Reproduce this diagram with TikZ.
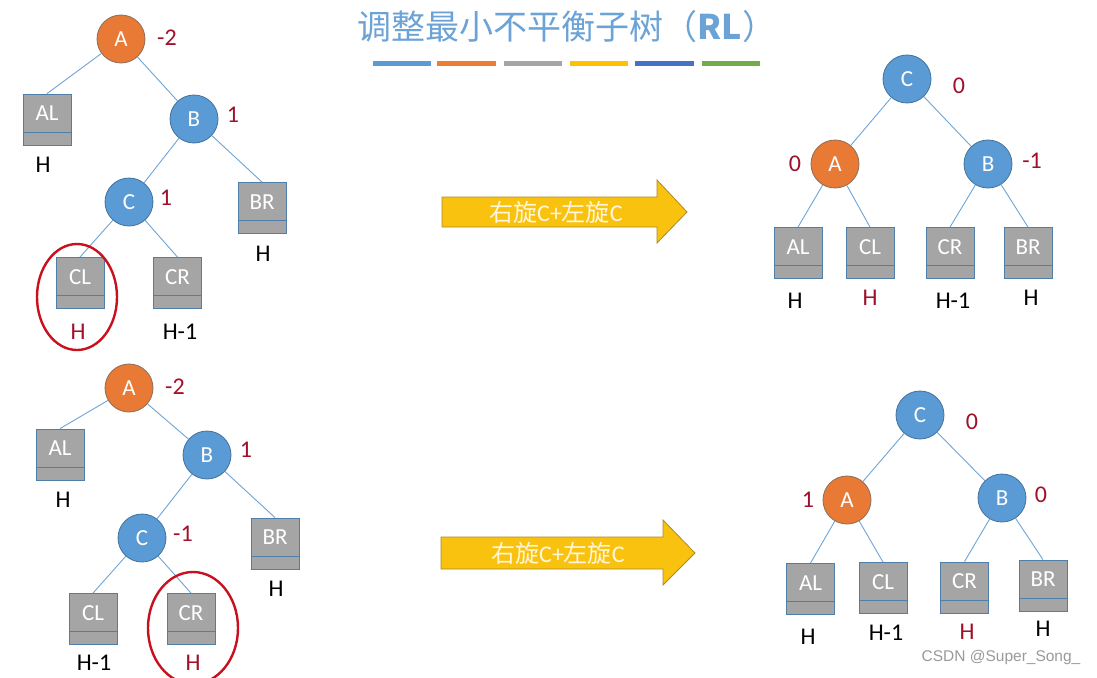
\documentclass[tikz,border=0pt]{standalone}
\usepackage{fontspec}
\setmainfont{Carlito}
\newfontfamily\cjk{Noto Sans CJK SC}
\newfontfamily\latinf{Carlito}
\newfontfamily\wmfont{Liberation Sans}
\usetikzlibrary{calc}
\definecolor{nodeblue}{HTML}{5B9BD5}
\definecolor{nodeborder}{HTML}{41719C}
\definecolor{nodeorange}{HTML}{E97A35}
\definecolor{orangeborder}{HTML}{8A6D5A}
\definecolor{boxgray}{HTML}{A5A5A5}
\definecolor{boxborder}{HTML}{4F7EA8}
\definecolor{edgeblue}{HTML}{6FA5D6}
\definecolor{bfred}{HTML}{A0102A}
\definecolor{ringred}{HTML}{C8101E}
\definecolor{titleblue}{HTML}{6CA3D6}
\definecolor{barblue}{HTML}{5B9BD5}
\definecolor{barorange}{HTML}{ED7D31}
\definecolor{bargray}{HTML}{A5A5A5}
\definecolor{baryellow}{HTML}{FFC000}
\definecolor{bardarkblue}{HTML}{4472C4}
\definecolor{bargreen}{HTML}{70AD47}
\definecolor{arrowfill}{HTML}{F8C20F}
\definecolor{arrowborder}{HTML}{B08A20}
\definecolor{arrowtext}{HTML}{FFF6DC}
\definecolor{wmgray}{HTML}{9A9A9A}
\tikzset{
  treenode/.style={circle, minimum size=48pt, inner sep=0pt, line width=0.8pt,
    text=white, font=\fontsize{23}{26}\selectfont},
  bnode/.style={treenode, fill=nodeblue, draw=nodeborder},
  onode/.style={treenode, fill=nodeorange, draw=orangeborder},
  leafbox/.style={rectangle, minimum width=48pt, minimum height=51pt, inner sep=0pt,
    fill=boxgray, draw=boxborder, line width=0.8pt,
    path picture={\draw[boxborder, line width=0.8pt]
      ([yshift=13pt]path picture bounding box.south west) --
      ([yshift=13pt]path picture bounding box.south east);},
    label={[text=white, font=\fontsize{23}{26}\selectfont, yshift=6pt]center:#1}},
  edge/.style={draw=edgeblue, line width=0.9pt},
  bf/.style={text=bfred, font=\fontsize{24}{27}\selectfont, inner sep=0pt},
  ht/.style={text=black, font=\fontsize{24}{27}\selectfont, inner sep=0pt},
  htred/.style={ht, text=bfred},
  ring/.style={draw=ringred, line width=2.4pt},
  bar/.style={line width=5pt},
  bigarrow/.style={fill=arrowfill, draw=arrowborder, line width=0.8pt},
  arrowlbl/.style={text=arrowtext, font=\cjk\fontsize{24}{27}\selectfont, inner sep=0pt},
}
\begin{document}
\begin{tikzpicture}[x=1pt, y=-1pt]
\useasboundingbox (0,0) rectangle (1097,677);
\fill[white] (0,0) rectangle (1097,677);
\clip (0,0) rectangle (1097,677);

% title
\node[text=titleblue, font=\cjk\fontsize{34}{37}\selectfont, inner sep=0pt] (title) at (567,27) {调整最小不平衡子树（\textbf{RL}）};
\draw[bar, barblue] (373,64) -- (431,64);
\draw[bar, barorange] (437,64) -- (496,64);
\draw[bar, bargray] (504,64) -- (562,64);
\draw[bar, baryellow] (570,64) -- (628,64);
\draw[bar, bardarkblue] (635,64) -- (694,64);
\draw[bar, bargreen] (702,64) -- (760,64);

% ===== top-left tree =====
\node[onode] (tlA) at (121,39) {A};
\node[bnode] (tlB) at (194,119) {B};
\node[bnode] (tlC) at (129,202) {C};
\node[leafbox=AL] (tlAL) at (47,119.5) {};
\node[leafbox=BR] (tlBR) at (262,208) {};
\node[leafbox=CL] (tlCL) at (80,283) {};
\node[leafbox=CR] (tlCR) at (177.5,283) {};
\draw[edge] (tlA) -- (tlAL.north);
\draw[edge] (tlA) -- (tlB);
\draw[edge] (tlB) -- (tlC);
\draw[edge] (tlB) -- (tlBR.north);
\draw[edge] (tlC) -- (tlCL.north);
\draw[edge] (tlC) -- (tlCR.north);
\node[bf] (tlAbf) at (167,38) {-2};
\node[bf] (tlBbf) at (233,115) {1};
\node[bf] (tlCbf) at (166,198) {1};
\node[ht] (tlALh) at (43,165) {H};
\node[ht] (tlBRh) at (263,254) {H};
\node[htred] (tlCLh) at (78,332) {H};
\node[ht] (tlCRh) at (180,332) {H-1};
\draw[ring] (77,297) ellipse [x radius=40, y radius=53];

% ===== bottom-left tree =====
\node[onode] (blA) at (129,388) {A};
\node[bnode] (blB) at (207,455) {B};
\node[bnode] (blC) at (142,538) {C};
\node[leafbox=AL] (blAL) at (60,454.5) {};
\node[leafbox=BR] (blBR) at (275,543.5) {};
\node[leafbox=CL] (blCL) at (93,619) {};
\node[leafbox=CR] (blCR) at (191,619) {};
\draw[edge] (blA) -- (blAL.north);
\draw[edge] (blA) -- (blB);
\draw[edge] (blB) -- (blC);
\draw[edge] (blB) -- (blBR.north);
\draw[edge] (blC) -- (blCL.north);
\draw[edge] (blC) -- (blCR.north);
\node[bf] (blAbf) at (175,387) {-2};
\node[bf] (blBbf) at (246,450) {1};
\node[bf] (blCbf) at (183,534) {-1};
\node[ht] (blALh) at (63,500) {H};
\node[ht] (blBRh) at (276,589) {H};
\node[ht] (blCLh) at (94,663) {H-1};
\node[htred] (blCRh) at (193,663) {H};
\draw[ring] (193,628) ellipse [x radius=45, y radius=56];

% ===== arrows =====
\fill[bigarrow] (442,197) -- (657,197) -- (657,180) -- (687,212) -- (657,243) -- (657,227) -- (442,227) -- cycle;
\node[arrowlbl] (arr1) at (556,212) {右旋{\latinf C+}左旋{\latinf C}};
\fill[bigarrow] (441,537) -- (663,537) -- (663,520) -- (695,553) -- (663,585) -- (663,569) -- (441,569) -- cycle;
\node[arrowlbl] (arr2) at (558,553) {右旋{\latinf C+}左旋{\latinf C}};

% ===== top-right tree =====
\node[bnode] (trC) at (907,79) {C};
\node[onode] (trA) at (835,164) {A};
\node[bnode] (trB) at (988,164) {B};
\node[leafbox=AL] (trAL) at (798,253) {};
\node[leafbox=CL] (trCL) at (870,253) {};
\node[leafbox=CR] (trCR) at (950,253) {};
\node[leafbox=BR] (trBR) at (1028,253) {};
\draw[edge] (trC) -- (trA);
\draw[edge] (trC) -- (trB);
\draw[edge] (trA) -- (trAL.north);
\draw[edge] (trA) -- (trCL.north);
\draw[edge] (trB) -- (trCR.north);
\draw[edge] (trB) -- (trBR.north);
\node[bf] (trCbf) at (959,86) {0};
\node[bf] (trAbf) at (795,164) {0};
\node[bf] (trBbf) at (1032,161) {-1};
\node[ht] (trALh) at (795,301) {H};
\node[htred] (trCLh) at (870,298) {H};
\node[ht] (trCRh) at (953,301) {H-1};
\node[ht] (trBRh) at (1031,298) {H};

% ===== bottom-right tree =====
\node[bnode] (brC) at (920,415) {C};
\node[onode] (brA) at (847,500) {A};
\node[bnode] (brB) at (1002,498) {B};
\node[leafbox=AL] (brAL) at (810.5,589) {};
\node[leafbox=CL] (brCL) at (883,588) {};
\node[leafbox=CR] (brCR) at (964.5,587.5) {};
\node[leafbox=BR] (brBR) at (1043,585.5) {};
\draw[edge] (brC) -- (brA);
\draw[edge] (brC) -- (brB);
\draw[edge] (brA) -- (brAL.north);
\draw[edge] (brA) -- (brCL.north);
\draw[edge] (brB) -- (brCR.north);
\draw[edge] (brB) -- (brBR.north);
\node[bf] (brCbf) at (972,422) {0};
\node[bf] (brAbf) at (808,500) {1};
\node[bf] (brBbf) at (1041,495) {0};
\node[ht] (brALh) at (808,637) {H};
\node[ht] (brCLh) at (886,633) {H-1};
\node[htred] (brCRh) at (967,632) {H};
\node[ht] (brBRh) at (1043,629) {H};

% watermark
\node[text=wmgray, font=\wmfont\fontsize{15.5}{18}\selectfont, inner sep=0pt] (wm) at (1001,657) {CSDN @Super\_Song\_};
\end{tikzpicture}
\end{document}
